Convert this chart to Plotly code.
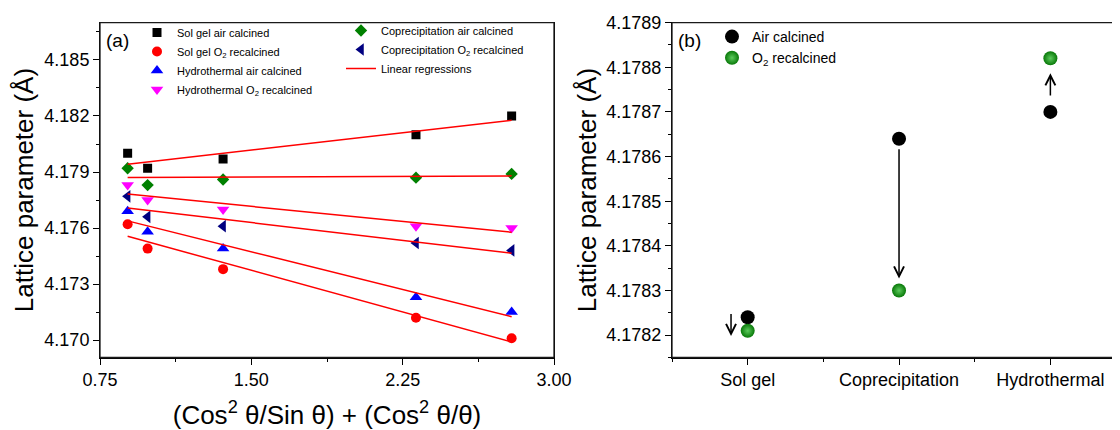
import numpy as np
import plotly.graph_objects as go

# ---------------- data: panel (a) ----------------
x_vals = [0.887, 0.986, 1.360, 2.316, 2.790]
solgel_air = [4.1800, 4.1792, 4.1797, 4.1810, 4.1820]
solgel_o2 = [4.1762, 4.1749, 4.1738, 4.1712, 4.1701]
hydro_air = [4.1769, 4.1758, 4.1749, 4.1723, 4.1715]
hydro_o2 = [4.1783, 4.1775, 4.1770, 4.1761, 4.1760]
copre_air = [4.1792, 4.1783, 4.1786, 4.1787, 4.1789]
copre_o2 = [4.1777, 4.1766, 4.1761, 4.1752, 4.1748]

# ---------------- data: panel (b) ----------------
methods = ["Sol gel", "Coprecipitation", "Hydrothermal"]
air_calcined = [4.17824, 4.17864, 4.17870]
o2_recalcined = [4.17821, 4.17830, 4.17882]

FONT = "Liberation Sans, Arial, sans-serif"
PAGE_OFF = 8            # default page body margin
W, H = 1120 - PAGE_OFF, 430 - PAGE_OFF


def px_x(x):  # reference pixel -> paper fraction
    return (x - PAGE_OFF) / W


def px_y(y):
    return 1 - (y - PAGE_OFF) / H


fig = go.Figure()

series = [
    ("Sol gel air calcined", solgel_air, "square", "#000000", 9, "legend", 1),
    ("Sol gel O<sub>2</sub> recalcined", solgel_o2, "circle", "#ff0000", 10, "legend", 2),
    ("Hydrothermal air calcined", hydro_air, "triangle-up", "#0000ff", 11, "legend", 3),
    ("Hydrothermal O<sub>2</sub> recalcined", hydro_o2, "triangle-down", "#ff00ff", 11, "legend", 4),
    ("Coprecipitation air calcined", copre_air, "diamond", "#008000", 9.5, "legend2", 5),
    ("Coprecipitation O<sub>2</sub> recalcined", copre_o2, "triangle-left", "#000080", 11, "legend2", 6),
]

for name, ys, sym, col, size, leg, rank in series:
    fig.add_trace(go.Scatter(
        x=x_vals, y=ys, mode="markers", name=name,
        marker=dict(symbol=sym, color=col, size=size, line=dict(width=0)),
        legend=leg, legendrank=rank, xaxis="x", yaxis="y"))

# linear regressions through each series
lx, ly = [], []
for name, ys, *_ in series:
    k, b = np.polyfit(x_vals, ys, 1)
    x0, x1 = min(x_vals), max(x_vals)
    lx += [x0, x1, None]
    ly += [k * x0 + b, k * x1 + b, None]
fig.add_trace(go.Scatter(
    x=lx, y=ly, mode="lines", name="Linear regressions",
    line=dict(color="#ff0000", width=1.5),
    legend="legend2", legendrank=7, xaxis="x", yaxis="y"))

# ---------------- panel (b) ----------------
cat_pos = list(range(1, len(methods) + 1))
fig.add_trace(go.Scatter(
    x=cat_pos, y=air_calcined, mode="markers", name="Air calcined",
    marker=dict(symbol="circle", color="#000000", size=14, line=dict(width=0)),
    legend="legend3", xaxis="x2", yaxis="y2"))
fig.add_trace(go.Scatter(
    x=cat_pos, y=o2_recalcined, mode="markers", name="O<sub>2</sub> recalcined",
    marker=dict(symbol="circle", color="#087808", size=14, line=dict(width=0),
                gradient=dict(type="radial", color="#5ccb5c")),
    legend="legend3", xaxis="x2", yaxis="y2"))

annotations = []
for p, a, o in zip(cat_pos, air_calcined, o2_recalcined):
    arrow = dict(xref="x2", yref="y2", axref="x2", ayref="y2", showarrow=True,
                 arrowhead=5, arrowwidth=1.5, arrowsize=1.3, arrowcolor="#000", text="")
    if abs(o - a) < 0.00005:
        # small change: arrow drawn beside the points
        xa = p - 0.11
        if o < a:
            tail, head = a + 0.000011, o - 0.000012
        else:
            tail, head = a - 0.000011, o + 0.000012
        arrow.update(x=xa, y=head, ax=xa, ay=tail)
    else:
        arrow.update(x=p, y=o, ax=p, ay=a,
                     standoff=12 if o < a else 15,
                     startstandoff=9 if o < a else 15)
    annotations.append(arrow)

annotations.append(dict(text="(a)", x=0.008, y=0.985, xref="x domain", yref="y domain",
                        xanchor="left", yanchor="top", showarrow=False,
                        font=dict(family=FONT, size=19, color="#000")))
annotations.append(dict(text="(b)", x=0.010, y=0.985, xref="x2 domain", yref="y2 domain",
                        xanchor="left", yanchor="top", showarrow=False,
                        font=dict(family=FONT, size=19, color="#000")))

# frames (axis box)
frame = dict(color="#1a1a1a", width=1.3)
shapes = [
    dict(type="rect", xref="x domain", yref="y domain", x0=0, x1=1, y0=0, y1=1,
         line=frame, fillcolor="rgba(0,0,0,0)", layer="above"),
    dict(type="line", xref="x2 domain", yref="y2 domain", x0=0, x1=1, y0=1, y1=1,
         line=frame, layer="above"),
    dict(type="line", xref="x2 domain", yref="y2 domain", x0=0, x1=1, y0=0, y1=0,
         line=frame, layer="above"),
    dict(type="line", xref="x2 domain", yref="y2 domain", x0=0, x1=0, y0=0, y1=1,
         line=frame, layer="above"),
]

y_dom = [px_y(357.5), px_y(22.6)]
axis_common = dict(showline=True, linecolor="black", linewidth=1, ticks="outside",
                   ticklen=6, tickwidth=1.2, tickcolor="black", showgrid=False,
                   zeroline=False, tickfont=dict(family=FONT, size=18, color="#000"))
minor_common = dict(ticks="outside", ticklen=3.5, tickwidth=1.2, tickcolor="black",
                    showgrid=False)

fig.update_layout(
    width=W, height=H, template="none",
    margin=dict(l=0, r=0, t=0, b=0, autoexpand=False),
    paper_bgcolor="white", plot_bgcolor="white",
    font=dict(family=FONT, color="#000"),
    xaxis=dict(domain=[px_x(100), px_x(554)], anchor="y", range=[0.75, 3.0],
               tick0=0.75, dtick=0.75, tickformat=".2f", mirror=True,
               minor=dict(dtick=0.375, tick0=0.75, **minor_common),
               title=dict(text="(Cos<sup>2</sup> θ/Sin θ) + (Cos<sup>2</sup> θ/θ)",
                          font=dict(family=FONT, size=26, color="#000"), standoff=22),
               **axis_common),
    yaxis=dict(domain=y_dom, anchor="x", range=[4.16907, 4.1870],
               tick0=4.170, dtick=0.003, tickformat=".3f", mirror=True,
               minor=dict(dtick=0.0015, tick0=4.170, **minor_common),
               title=dict(text="Lattice parameter (Å)",
                          font=dict(family=FONT, size=26, color="#000"), standoff=3),
               **axis_common),
    xaxis2=dict(domain=[px_x(672), 1.0], anchor="y2", range=[0.5, 3.46],
                tickmode="array", tickvals=cat_pos, ticktext=methods, mirror=True,
                minor=dict(dtick=0.5, tick0=0.5, **minor_common),
                **axis_common),
    yaxis2=dict(domain=y_dom, anchor="x2", range=[4.17815, 4.1789],
                tick0=4.1782, dtick=0.0001, tickformat=".4f", mirror=False,
                minor=dict(dtick=0.00005, tick0=4.1782, **minor_common),
                title=dict(text="Lattice parameter (Å)",
                           font=dict(family=FONT, size=26, color="#000"), standoff=2),
                **axis_common),
    legend=dict(x=px_x(137), y=px_y(18), xanchor="left", yanchor="top",
                bgcolor="rgba(0,0,0,0)", borderwidth=0,
                font=dict(family=FONT, size=11, color="#000"), tracegroupgap=0),
    legend2=dict(x=px_x(341), y=px_y(16), xanchor="left", yanchor="top",
                 bgcolor="rgba(0,0,0,0)", borderwidth=0,
                 font=dict(family=FONT, size=11, color="#000"), tracegroupgap=0),
    legend3=dict(x=px_x(712), y=px_y(21), xanchor="left", yanchor="top",
                 bgcolor="rgba(0,0,0,0)", borderwidth=0,
                 font=dict(family=FONT, size=14, color="#000"), tracegroupgap=0),
    showlegend=True,
    annotations=annotations,
    shapes=shapes,
)

fig.write_html("out.html")
